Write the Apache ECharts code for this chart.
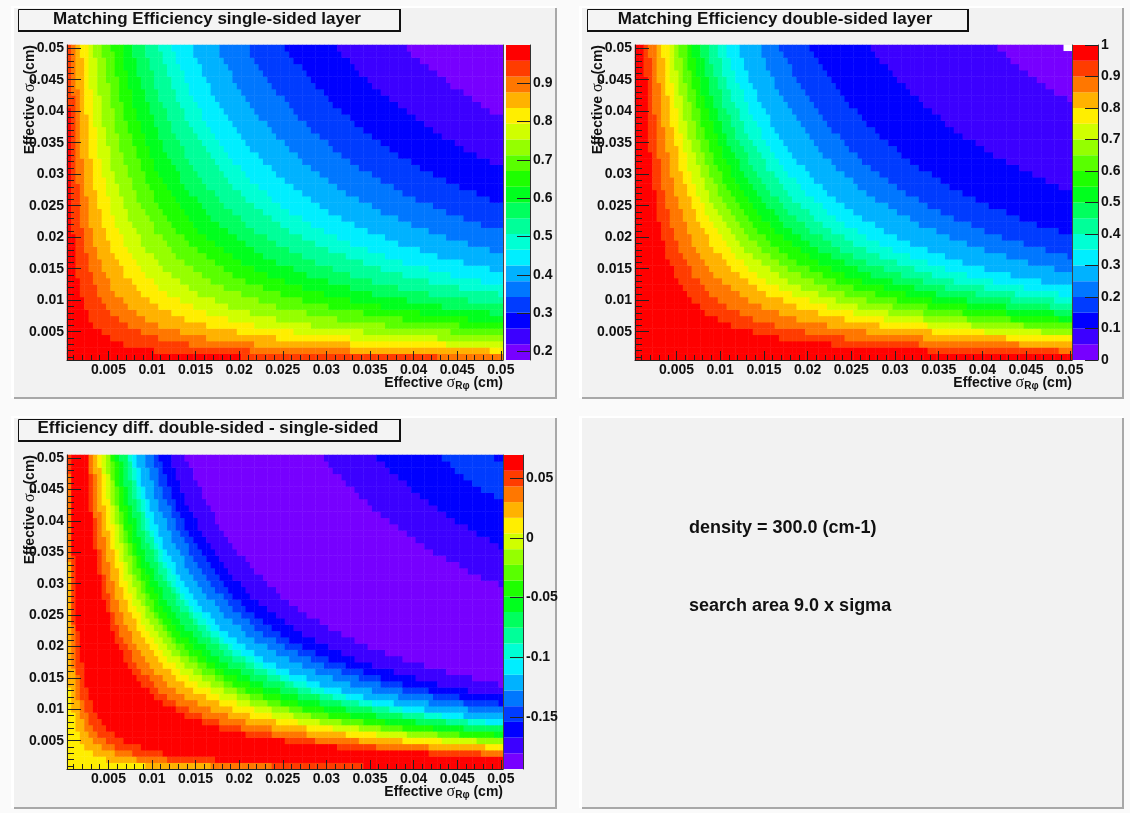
<!DOCTYPE html>
<html><head><meta charset="utf-8">
<style>html,body{margin:0;padding:0;background:#fafafa}#c{width:1130px;height:813px;filter:blur(0.45px)}</style>
<script src="https://cdn.jsdelivr.net/npm/echarts@6/dist/echarts.min.js"></script>
</head><body><div id="c"></div>
<script>
// Palette bands, violet (lowest) to red (highest)
const palette=['#7700ff','#3c00ff','#0000ff','#003cff','#0077ff','#00b2ff','#00eeff','#00ffd4','#00ff99','#00ff5e','#00ff1e','#1eff00','#59ff00','#95ff00','#d0ff00','#ffee00','#ffb200','#ff7700','#ff3c00','#ff0000'];
// Axis categories
const xCategories=[0.0005,0.001,0.0015,0.002,0.0025,0.003,0.0035,0.004,0.0045,0.005,0.0055,0.006,0.0065,0.007,0.0075,0.008,0.0085,0.009,0.0095,0.01,0.0105,0.011,0.0115,0.012,0.0125,0.013,0.0135,0.014,0.0145,0.015,0.0155,0.016,0.0165,0.017,0.0175,0.018,0.0185,0.019,0.0195,0.02,0.0205,0.021,0.0215,0.022,0.0225,0.023,0.0235,0.024,0.0245,0.025,0.0255,0.026,0.0265,0.027,0.0275,0.028,0.0285,0.029,0.0295,0.03,0.0305,0.031,0.0315,0.032,0.0325,0.033,0.0335,0.034,0.0345,0.035,0.0355,0.036,0.0365,0.037,0.0375,0.038,0.0385,0.039,0.0395,0.04,0.0405,0.041,0.0415,0.042,0.0425,0.043,0.0435,0.044,0.0445,0.045,0.0455,0.046,0.0465,0.047,0.0475,0.048,0.0485,0.049,0.0495,0.05];
const yCategories=[0.001,0.002,0.003,0.004,0.005,0.006,0.007,0.008,0.009,0.01,0.011,0.012,0.013,0.014,0.015,0.016,0.017,0.018,0.019,0.02,0.021,0.022,0.023,0.024,0.025,0.026,0.027,0.028,0.029,0.03,0.031,0.032,0.033,0.034,0.035,0.036,0.037,0.038,0.039,0.04,0.041,0.042,0.043,0.044,0.045,0.046,0.047,0.048,0.049,0.05];
// Colour-scale ranges and tick labels
const singleRange=[0.1775,1.0], doubleRange=[0,1.0], diffRange=[-0.1938,0.0695];
const singleTicks=[0.2,0.3,0.4,0.5,0.6,0.7,0.8,0.9];
const doubleTicks=[0,0.1,0.2,0.3,0.4,0.5,0.6,0.7,0.8,0.9,1];
const diffTicks=[-0.15,-0.1,-0.05,0,0.05];

// Contour edges: for each row, top row first, the number of
// columns from the left that lie inside the contour. Rows not listed: whole row.
const s19=[0,0,0,0,0,0,0,0,0,0,1,1,1,1,1,1,1,1,1,1,1,1,1,1,1,1,1,1,1,1,2,2,2,2,2,2,2,3,3,3,4,4,5,5,6,8,10,13,20,40];
const s18=[1,1,1,1,1,1,1,1,2,2,2,2,2,2,2,2,2,2,2,2,2,2,3,3,3,3,3,3,3,4,4,4,4,5,5,5,6,6,7,7,8,9,10,12,14,17,21,28,42,85];
const s17=[2,2,2,2,2,2,2,3,3,3,3,3,3,3,3,3,3,3,4,4,4,4,4,4,5,5,5,5,5,6,6,6,7,7,8,8,9,10,10,11,13,14,16,18,21,26,32,43,65];
const s16=[3,3,4,4,4,4,4,4,4,4,4,5,5,5,5,5,5,5,6,6,6,6,6,7,7,7,8,8,8,9,9,10,10,11,12,13,13,15,16,17,19,21,24,27,32,39,48,65,97];
const s15=[5,5,5,5,5,5,5,6,6,6,6,6,6,7,7,7,7,7,8,8,8,9,9,9,10,10,10,11,11,12,13,13,14,15,16,17,18,20,21,23,26,29,32,37,43,52,65,87];
const s14=[6,6,7,7,7,7,7,7,8,8,8,8,8,9,9,9,10,10,10,10,11,11,12,12,13,13,14,14,15,16,17,17,18,20,21,22,24,26,28,30,34,37,42,48,56,68,85];
const s13=[8,8,9,9,9,9,10,10,10,10,11,11,11,11,12,12,12,13,13,14,14,15,15,16,16,17,18,19,20,20,22,23,24,25,27,29,31,33,36,40,44,48,55,62,73,88];
const s12=[10,11,11,11,11,12,12,12,12,13,13,13,14,14,15,15,16,16,17,17,18,18,19,20,20,21,22,23,24,25,27,28,30,32,34,36,38,41,45,49,54,60,68,77,90];
const s11=[13,13,13,13,14,14,14,15,15,15,16,16,17,17,18,18,19,19,20,20,21,22,23,24,25,26,27,28,29,30,32,34,36,38,40,43,46,50,54,59,65,72,81,92];
const s10=[15,15,16,16,16,17,17,18,18,19,19,20,20,21,21,22,22,23,24,25,26,26,27,28,30,31,32,33,35,37,39,41,43,45,48,52,55,60,65,70,78,86,97];
const s09=[18,18,19,19,20,20,20,21,21,22,23,23,24,24,25,26,27,27,28,29,30,31,32,34,35,36,38,40,41,43,46,48,51,54,57,61,65,70,76,83,92];
const s08=[21,22,22,23,23,24,24,25,25,26,27,27,28,29,30,31,32,33,34,35,36,37,38,40,41,43,45,47,49,51,54,57,60,64,68,72,77,83,90,99];
const s07=[24,25,25,26,27,27,28,28,29,30,31,31,32,33,34,35,36,37,38,40,41,42,44,46,47,49,51,54,56,59,62,65,69,73,77,83,88,95];
const s06=[29,29,30,31,31,32,33,33,34,35,36,37,38,39,40,41,42,44,45,47,48,50,52,54,56,58,60,63,66,69,73,76,81,85,91,97];
const s05=[35,35,36,37,38,38,39,40,41,42,43,44,46,47,48,50,51,53,54,56,58,60,62,64,67,70,72,76,79,83,87,92,97];
const s04=[42,42,43,44,45,46,47,48,50,51,52,53,55,56,58,60,61,63,65,67,70,72,75,77,80,84,87,91,95];
const s03=[50,51,52,54,55,56,57,59,60,61,63,65,66,68,70,72,74,76,79,81,84,87,90,94,97];
const s02=[62,63,65,66,67,69,70,72,74,76,78,80,82,84,86,89,91,94,97];
const s01=[78,79,81,83,85,87,88,91,93,95,97];

const d19=[2,2,2,2,2,3,3,3,3,3,3,3,3,3,3,3,3,4,4,4,4,4,4,5,5,5,5,5,6,6,6,7,7,7,8,9,9,10,11,12,13,15,16,19,22,27,33,45,67];
const d18=s16;
const d17=[5,5,5,5,5,5,6,6,6,6,6,6,6,7,7,7,7,8,8,8,8,9,9,9,10,10,11,11,12,12,13,13,14,15,16,17,18,20,22,24,26,29,33,37,44,53,66,88];
const d16=s14;
const d15=[8,8,8,8,8,8,9,9,9,9,10,10,10,10,11,11,11,12,12,12,13,13,14,14,15,16,16,17,18,19,20,21,22,23,25,26,28,30,33,36,40,44,50,57,67,80];
const d14=[9,9,9,9,10,10,10,10,11,11,11,11,12,12,12,13,13,14,14,15,15,16,16,17,17,18,19,20,21,22,23,24,25,27,29,31,33,35,38,42,46,51,58,66,77,93];
const d13=[10,10,11,11,11,11,12,12,12,13,13,13,14,14,14,15,15,16,16,17,17,18,19,19,20,21,22,23,24,25,26,28,29,31,33,35,38,41,44,48,53,59,66,76,89];
const d12=[12,12,12,12,13,13,13,14,14,14,15,15,15,16,16,17,17,18,18,19,20,20,21,22,23,24,25,26,27,28,30,31,33,35,37,40,43,46,50,55,60,67,75,86];
const d11=[13,13,14,14,14,15,15,15,16,16,17,17,18,18,19,19,20,20,21,22,22,23,24,25,26,27,28,29,31,32,34,36,38,40,42,45,48,52,57,62,68,76,85,97];
const d10=[15,15,16,16,16,17,17,17,18,18,19,19,20,20,21,21,22,23,24,24,25,26,27,28,29,30,32,33,34,36,38,40,42,45,48,51,54,59,64,69,76,85,96];
const d09=[17,17,17,18,18,19,19,20,20,20,21,22,22,23,23,24,25,26,26,27,28,29,30,31,33,34,35,37,39,40,43,45,47,50,53,57,61,66,71,78,86,95];
const d08=[19,19,20,20,20,21,21,22,22,23,24,24,25,25,26,27,28,29,30,30,32,33,34,35,36,38,40,41,43,45,48,50,53,56,60,64,68,73,80,87,96];
const d07=[21,21,22,22,23,23,24,25,25,26,26,27,28,29,29,30,31,32,33,34,35,37,38,39,41,43,44,46,48,51,53,56,59,63,67,71,76,82,89,97];
const d06=[24,24,25,25,26,26,27,28,28,29,30,31,31,32,33,34,35,36,37,39,40,41,43,44,46,48,50,52,55,57,60,63,67,71,75,80,86,93];
const d05=[29,29,30,30,31,32,32,33,34,35,36,37,38,39,40,41,42,43,45,46,48,50,51,53,55,58,60,63,65,69,72,76,80,85,90,96];
const d04=[33,34,35,36,36,37,38,39,40,41,42,43,44,45,47,48,49,51,52,54,56,58,60,62,65,67,70,73,77,80,84,89,94,99];
const d03=[40,41,42,43,44,45,46,47,48,49,51,52,53,55,56,58,60,61,63,65,68,70,72,75,78,81,85,88,92,97];
const d02=[54,55,56,58,59,60,62,63,65,66,68,70,71,73,75,78,80,82,85,88,91,94,97];
const d01=[83,85,86,88,90,92,94,96,99];

const e01=[0,0,0,0,0,0,0,0,0,0,0,0,0,0,0,0,0,0,0,0,0,0,0,0,0,0,0,0,0,0,0,0,0,0,0,0,0,1,1,1,1,2,2,2,3,3,4,6,9,18];
const e02=[0,0,0,0,0,0,0,0,0,0,0,0,0,0,0,0,0,1,1,1,1,1,1,1,1,1,1,1,1,1,1,1,1,1,2,2,2,2,2,3,3,3,4,4,5,6,8,11,16,33];
const e03=[0,0,0,1,1,1,1,1,1,1,1,1,1,1,1,1,1,1,1,1,1,1,1,1,1,1,1,2,2,2,2,2,2,2,2,3,3,3,3,4,4,5,5,6,7,9,11,15,23,47];
const e04=[1,1,1,1,1,1,1,1,1,1,1,1,1,1,1,1,2,2,2,2,2,2,2,2,2,2,2,2,3,3,3,3,3,4,4,4,4,5,5,6,6,7,8,9,11,13,17,22,34,68];
const e05=[5,5,5,5,5,5,5,5,5,6,6,6,6,6,6,7,7,7,7,8,8,8,8,9,9,10,10,10,11,11,12,13,13,14,15,16,17,19,20,22,25,27,31,35,41,50,62,83];
const e06=[5,5,5,6,6,6,6,6,6,6,7,7,7,7,7,8,8,8,8,9,9,9,10,10,10,11,11,12,12,13,14,15,15,16,17,19,20,21,23,25,28,31,35,40,47,57,71,95];
const e07=[6,6,6,7,7,7,7,7,7,8,8,8,8,9,9,9,9,10,10,10,11,11,11,12,12,13,13,14,15,15,16,17,18,19,20,22,23,25,27,30,33,37,41,47,55,67,83];
const e08=[7,7,8,8,8,8,8,8,9,9,9,9,10,10,10,11,11,11,12,12,12,13,13,14,14,15,16,16,17,18,19,20,21,22,24,25,27,29,32,35,38,42,48,55,64,77,96];
const e09=[8,8,8,9,9,9,9,10,10,10,10,11,11,11,11,12,12,13,13,13,14,14,15,15,16,17,17,18,19,20,21,22,23,25,26,28,30,33,35,39,43,47,53,61,71,86];
const e10=[9,9,9,10,10,10,10,10,11,11,11,12,12,12,13,13,13,14,14,15,15,16,16,17,18,18,19,20,21,22,23,24,26,27,29,31,33,36,39,42,47,52,58,67,78,94];
const e11=[10,10,10,10,11,11,11,11,12,12,12,13,13,13,14,14,15,15,15,16,17,17,18,18,19,20,21,22,23,24,25,26,28,30,31,34,36,39,42,46,51,56,63,72,85];
const e12=s12;
const e13=[11,12,12,12,12,13,13,13,14,14,14,15,15,15,16,16,17,17,18,19,19,20,21,21,22,23,24,25,26,28,29,31,32,34,36,39,42,45,49,53,59,65,73,84,98];
const e14=[12,13,13,13,13,14,14,14,15,15,16,16,16,17,17,18,18,19,20,20,21,22,22,23,24,25,26,27,29,30,32,33,35,37,40,42,45,49,53,58,64,71,80,91];
const e15=[14,14,14,14,15,15,15,16,16,17,17,17,18,18,19,20,20,21,21,22,23,24,25,25,26,28,29,30,31,33,35,36,38,41,43,46,50,53,58,63,70,77,87];
const e16=[14,15,15,15,16,16,16,17,17,18,18,18,19,20,20,21,21,22,23,23,24,25,26,27,28,29,30,32,33,35,37,38,41,43,46,49,52,56,61,67,74,82,92];
const e17=[15,15,16,16,16,17,17,18,18,18,19,19,20,20,21,22,22,23,24,25,25,26,27,28,29,31,32,33,35,36,38,40,43,45,48,51,55,59,64,70,77,86,96];
const e18=[16,16,17,17,17,18,18,19,19,20,20,21,21,22,22,23,24,25,25,26,27,28,29,30,31,33,34,35,37,39,41,43,45,48,51,55,58,63,68,75,82,91];
const e19=s09;
const e20=[20,20,21,21,21,22,22,23,24,24,25,25,26,27,28,28,29,30,31,32,33,34,36,37,38,40,42,43,45,48,50,53,56,59,63,67,72,77,84,91];
const e21=s08;
const e22=[24,24,25,25,26,26,27,27,28,29,30,30,31,32,33,34,35,36,37,38,40,41,42,44,46,48,50,52,54,57,60,63,66,70,75,80,85,92];
const e23=[27,28,29,29,30,31,31,32,33,34,34,35,36,37,38,39,41,42,43,45,46,48,49,51,53,55,58,60,63,66,69,73,77,82,87,93,99];
const e24=[59,60,61,63,64,66,67,69,70,72,74,76,78,80,82,84,87,90,92,95,99];
const e25=[71,73,74,76,78,79,81,83,85,87,89,92,94,97,99];
const e26=[86,88,89,91,93,95,98];

// Band reached when moving outward past each successive edge
const singleEdges=[s19,s18,s17,s16,s15,s14,s13,s12,s11,s10,s09,s08,s07,s06,s05,s04,s03,s02,s01];
const singleBands=[19,18,17,16,15,14,13,12,11,10,9,8,7,6,5,4,3,2,1,0];
const doubleEdges=[d19,d18,d17,d16,d15,d14,d13,d12,d11,d10,d09,d08,d07,d06,d05,d04,d03,d02,d01];
const doubleBands=singleBands;
const diffEdges=[e01,e02,e03,e04,e05,e06,e07,e08,e09,e10,e11,e12,e13,e14,e15,e16,e17,e18,e19,e20,e21,e22,e23,e24,e25,e26];
const diffBands=[15,16,17,18,19,18,17,16,15,14,13,12,11,10,9,8,7,6,5,4,3,2,1,0,1,2,3];
// Isolated odd cells: [column, row, band or null for empty]
const doubleOddCells=[[98,49,null],[99,49,null]];
const diffOddCells=[[98,49,2],[99,49,2]];

const mid=(r,b)=>r[0]+(b+0.5)*(r[1]-r[0])/20;
function cells(edges,bands,range,odd){
  const out=[];
  for(let row=0;row<50;row++){
    const ends=edges.map(a=>{const v=a[49-row];return v===undefined?100:v;});
    for(let col=0;col<100;col++){
      let i=0;
      for(const n of ends){ if(col>=n) i++; }
      const o=odd.find(c=>c[0]===col&&c[1]===row);
      if(o){ if(o[2]!==null) out.push([col,row,mid(range,o[2])]); continue; }
      out.push([col,row,mid(range,bands[i])]);
    }
  }
  return out;
}
const font='"Liberation Sans",Arial,sans-serif';
const lbl={fontFamily:font,fontWeight:'bold',fontSize:14,color:'#111'};
const rich={a:{fontFamily:font,fontWeight:'bold',fontSize:14,color:'#111'},
  s:{fontFamily:'"Liberation Serif",serif',fontSize:16,color:'#111'},
  u:{fontFamily:font,fontWeight:'bold',fontSize:10,color:'#111',verticalAlign:'bottom',padding:[6,0,0,0]}};

const panels=[
 {g:[67,45,436,315],b:[506,45,24,315],edges:singleEdges,bands:singleBands,range:singleRange,ticks:singleTicks,odd:[]},
 {g:[635,45,437,315],b:[1073,45,25,315],edges:doubleEdges,bands:doubleBands,range:doubleRange,ticks:doubleTicks,odd:doubleOddCells},
 {g:[67,455,436,314],b:[504,455,19,314],edges:diffEdges,bands:diffBands,range:diffRange,ticks:diffTicks,odd:diffOddCells}
];
const grid=[],xAxis=[],yAxis=[],heat=[],bars=[],visualMap=[];
panels.forEach((p,idx)=>{
  const gi=grid.length;
  grid.push({left:p.g[0],top:p.g[1],width:p.g[2],height:p.g[3],show:true,backgroundColor:'#fff',borderWidth:0});
  grid.push({left:p.b[0],top:p.b[1],width:p.b[2],height:p.b[3]});
  const xi=xAxis.length, yi=yAxis.length;
  const line={show:true,onZero:false,lineStyle:{color:'#222',width:1}};
  xAxis.push({type:'category',gridIndex:gi,position:'bottom',data:xCategories,z:10,axisLine:line,
    name:'{a|Effective }{s|σ}{u|Rφ}{a| (cm)}',nameLocation:'end',nameGap:0,nameMoveOverlap:false,
    nameTextStyle:{align:'right',verticalAlign:'top',padding:[15,0,0,0],rich},
    axisTick:{show:true,inside:true,alignWithLabel:true,length:9,interval:i=>i%10===9,lineStyle:{color:'#222'}},
    axisLabel:{...lbl,margin:3,interval:i=>i%10===9},splitLine:{show:false}});
  xAxis.push({type:'category',gridIndex:gi,position:'bottom',data:xCategories,z:10,axisLine:{show:false},
    axisTick:{show:true,inside:true,alignWithLabel:true,length:5,interval:i=>i%2===1,lineStyle:{color:'#222'}},
    axisLabel:{show:false},splitLine:{show:false}});
  yAxis.push({type:'category',gridIndex:gi,position:'left',data:yCategories,z:10,axisLine:line,
    name:'{a|Effective }{s|σ}{u|z}{a| (cm)}',nameLocation:'end',nameRotate:90,nameGap:0,nameMoveOverlap:false,
    nameTextStyle:{align:'right',verticalAlign:'bottom',padding:[0,0,29,0],rich},
    axisTick:{show:true,inside:true,alignWithLabel:true,length:14,interval:i=>i%5===4,lineStyle:{color:'#222'}},
    axisLabel:{...lbl,margin:3,interval:i=>i%5===4},splitLine:{show:false}});
  yAxis.push({type:'category',gridIndex:gi,position:'left',data:yCategories,z:10,axisLine:{show:false},
    axisTick:{show:true,inside:true,alignWithLabel:true,length:7,interval:()=>true,lineStyle:{color:'#222'}},
    axisLabel:{show:false},splitLine:{show:false}});
  yAxis.push({type:'category',gridIndex:gi,position:'right',data:yCategories,z:10,axisLine:{show:true,onZero:false,lineStyle:{color:'#444',width:1}},
    axisTick:{show:false},axisLabel:{show:false},splitLine:{show:false}});
  xAxis.push({type:'value',gridIndex:gi+1,min:0,max:1,show:false});
  yAxis.push({type:'value',gridIndex:gi+1,position:'right',min:p.range[0],max:p.range[1],z:10,
    axisLine:{show:true,onZero:false,lineStyle:{color:'#333'}},
    axisTick:{show:true,inside:true,length:13,customValues:p.ticks,lineStyle:{color:'#222'}},
    axisLabel:{...lbl,margin:3,customValues:p.ticks},splitLine:{show:false}});
  heat.push({type:'heatmap',xAxisIndex:xi,yAxisIndex:yi,progressive:0,animation:false,silent:true,
    data:cells(p.edges,p.bands,p.range,p.odd)});
  const step=(p.range[1]-p.range[0])/20;
  bars.push({type:'custom',xAxisIndex:xi+2,yAxisIndex:yi+3,silent:true,animation:false,clip:false,
    data:palette.map((c,b)=>[p.range[0]+b*step,p.range[0]+(b+1)*step,b]),
    encode:{y:[0,1]},
    renderItem:(params,api)=>{
      const a=api.coord([0,api.value(0)]),b=api.coord([1,api.value(1)]);
      return {type:'rect',shape:{x:a[0],y:b[1],width:b[0]-a[0],height:a[1]-b[1]},style:{fill:palette[api.value(2)]}};
    }});
  visualMap.push({type:'piecewise',show:false,seriesIndex:idx,dimension:2,
    pieces:palette.map((c,b)=>({gte:p.range[0]+b*step,lt:p.range[0]+(b+1)*step,color:c}))});
});
function pad(x,y,w,h){return [
  {type:'rect',z:-10,shape:{x:x-3,y:y-2,width:w+3,height:h+2},style:{fill:'#ffffff'}},
  {type:'rect',z:-9,shape:{x:x,y:y,width:w,height:h},style:{fill:'#f2f2f2'}},
  {type:'rect',z:-9,shape:{x:x+w-1,y:y,width:2,height:h+1},style:{fill:'#a8a8a8'}},
  {type:'rect',z:-9,shape:{x:x,y:y+h-1,width:w+1,height:2},style:{fill:'#a8a8a8'}}];}
function box(x,y,w,h){return [
  {type:'rect',z:-5,shape:{x:x+.5,y:y+.5,width:w,height:h},style:{fill:'#f4f4f4',stroke:'#111',lineWidth:1}},
  {type:'rect',z:-5,shape:{x:x,y:y+h,width:w+2,height:2},style:{fill:'#111'}},
  {type:'rect',z:-5,shape:{x:x+w,y:y,width:2,height:h+2},style:{fill:'#111'}}];}
const tb=(text,left,top,size)=>({text,left,top,textAlign:'center',padding:0,textStyle:{fontFamily:font,fontWeight:'bold',fontSize:size,color:'#111'}});
const chart=echarts.init(document.getElementById('c'),null,{renderer:'canvas'});
chart.setOption({
  animation:false,backgroundColor:'#fafafa',
  title:[
    tb('Matching Efficiency single-sided layer',207,11,17),
    tb('Matching Efficiency double-sided layer',775,11,17),
    tb('Efficiency diff. double-sided - single-sided',208,420,17),
    {text:'density = 300.0 (cm-1)',left:689,top:519,padding:0,textStyle:{fontFamily:font,fontWeight:'bold',fontSize:18,color:'#111'}},
    {text:'search area 9.0 x sigma',left:689,top:597,padding:0,textStyle:{fontFamily:font,fontWeight:'bold',fontSize:18,color:'#111'}}
  ],
  graphic:{elements:[...pad(14,8,542,390),...pad(582,8,541,390),...pad(14,418,542,390),...pad(582,418,541,390),
    ...box(18,9,381,21),...box(587,9,380,21),...box(18,419,381,21)]},
  grid,xAxis,yAxis,visualMap,series:[...heat,...bars]
});
</script></body></html>
